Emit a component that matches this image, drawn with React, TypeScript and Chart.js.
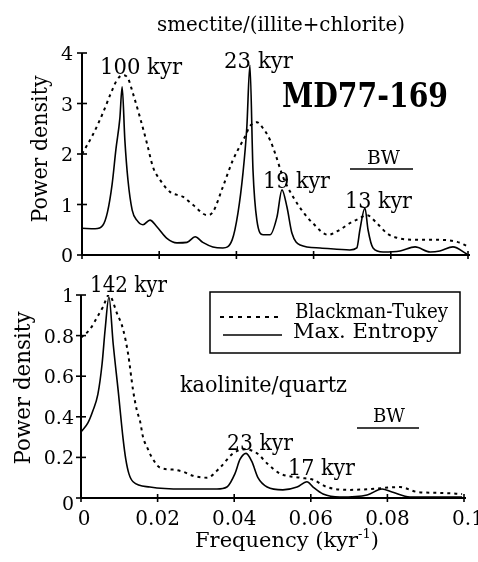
import React, { useEffect, useRef } from 'react';
import { Chart, registerables } from 'chart.js';

Chart.register(...registerables);

// ---------- data ----------
const X_TICKS = [0, 0.02, 0.04, 0.06, 0.08, 0.1];
const X_TICK_LABELS = ['0', '0.02', '0.04', '0.06', '0.08', '0.1'];
const TOP_Y_TICKS = [0, 1, 2, 3, 4];
const TOP_Y_LABELS = ['0', '1', '2', '3', '4'];
const BOTTOM_Y_TICKS = [0, 0.2, 0.4, 0.6, 0.8, 1];
const BOTTOM_Y_LABELS = ['0', '0.2', '0.4', '0.6', '0.8', '1'];

// smectite/(illite+chlorite) — Max. Entropy
const TOP_ME_FREQ = [0, 0.0034, 0.0054, 0.0066, 0.0078, 0.0088, 0.0098, 0.0104, 0.0111, 0.0119, 0.013, 0.0142, 0.0158, 0.0176, 0.0194, 0.022, 0.0246, 0.0272, 0.0293, 0.0313, 0.0339, 0.0365, 0.0389, 0.0404, 0.0417, 0.0427, 0.0435, 0.0443, 0.0453, 0.0469, 0.0487, 0.0505, 0.0518, 0.0531, 0.0544, 0.0565, 0.0617, 0.0694, 0.0712, 0.072, 0.0733, 0.0741, 0.0754, 0.078, 0.0824, 0.0863, 0.0902, 0.0927, 0.0961, 0.0997];
const TOP_ME = [0.53, 0.52, 0.59, 0.85, 1.4, 2.1, 2.7, 3.33, 2.28, 1.49, 0.89, 0.69, 0.6, 0.69, 0.56, 0.33, 0.24, 0.25, 0.36, 0.25, 0.16, 0.14, 0.3, 0.83, 1.62, 2.53, 3.76, 1.68, 0.69, 0.4, 0.4, 0.75, 1.29, 0.95, 0.43, 0.2, 0.14, 0.1, 0.14, 0.5, 0.93, 0.5, 0.14, 0.06, 0.08, 0.16, 0.06, 0.08, 0.16, 0.02];

// smectite/(illite+chlorite) — Blackman-Tukey
const TOP_BT_FREQ = [0, 0.0028, 0.0054, 0.0073, 0.0091, 0.0106, 0.0119, 0.0132, 0.015, 0.0168, 0.0184, 0.0202, 0.0228, 0.0262, 0.0288, 0.0324, 0.0339, 0.0365, 0.0391, 0.0415, 0.0422, 0.0435, 0.0453, 0.0469, 0.0487, 0.05, 0.0521, 0.0547, 0.0573, 0.0598, 0.0637, 0.0668, 0.0694, 0.072, 0.0738, 0.0764, 0.079, 0.0816, 0.0876, 0.0927, 0.0972, 0.0997];
const TOP_BT = [2.0, 2.38, 2.81, 3.17, 3.47, 3.56, 3.5, 3.2, 2.73, 2.22, 1.74, 1.49, 1.25, 1.15, 0.99, 0.79, 0.85, 1.35, 1.88, 2.24, 2.34, 2.55, 2.63, 2.51, 2.28, 2.02, 1.54, 1.15, 0.85, 0.63, 0.4, 0.5, 0.63, 0.73, 0.79, 0.63, 0.43, 0.34, 0.3, 0.3, 0.26, 0.18];

// kaolinite/quartz — Max. Entropy
const BOT_ME_FREQ = [0, 0.0018, 0.0031, 0.0044, 0.0055, 0.0063, 0.0073, 0.0084, 0.0097, 0.011, 0.0117, 0.0125, 0.0136, 0.018, 0.0266, 0.0355, 0.0381, 0.0402, 0.0415, 0.0431, 0.0446, 0.0462, 0.0486, 0.0527, 0.0564, 0.059, 0.0606, 0.0632, 0.0676, 0.0747, 0.0786, 0.0812, 0.0859, 0.0919, 0.0995];
const BOT_ME = [0.325, 0.37, 0.43, 0.51, 0.66, 0.83, 0.99, 0.76, 0.53, 0.29, 0.19, 0.12, 0.08, 0.054, 0.044, 0.044, 0.054, 0.12, 0.19, 0.22, 0.18, 0.1, 0.054, 0.04, 0.054, 0.08, 0.054, 0.02, 0.005, 0.015, 0.044, 0.03, 0.005, 0.005, 0.005];

// kaolinite/quartz — Blackman-Tukey
const BOT_BT_FREQ = [0, 0.0023, 0.0042, 0.0057, 0.0073, 0.0094, 0.011, 0.0123, 0.0136, 0.0146, 0.0154, 0.0162, 0.0175, 0.0185, 0.0206, 0.024, 0.0266, 0.0292, 0.0329, 0.0363, 0.0397, 0.0428, 0.046, 0.0486, 0.052, 0.0572, 0.0606, 0.0642, 0.0702, 0.0755, 0.0833, 0.0877, 0.0937, 0.0995];
const BOT_BT = [0.79, 0.83, 0.89, 0.94, 1.0, 0.91, 0.83, 0.71, 0.53, 0.43, 0.38, 0.3, 0.24, 0.2, 0.15, 0.14, 0.13, 0.11, 0.1, 0.15, 0.22, 0.24, 0.22, 0.17, 0.12, 0.1, 0.09, 0.054, 0.04, 0.044, 0.054, 0.03, 0.025, 0.02];

const SERIES_NAMES = ['Blackman-Tukey', 'Max. Entropy'];

// ---------- drawing helpers ----------
const SERIF = '"DejaVu Serif", "Liberation Serif", serif';

type TextOpts = { align?: 'left' | 'center' | 'right'; sx?: number; width?: number; bold?: boolean };

function drawText(ctx: CanvasRenderingContext2D, s: string, x: number, y: number, size: number, o: TextOpts = {}) {
  ctx.font = `${o.bold ? 'bold ' : ''}${size}px ${SERIF}`;
  const m = ctx.measureText(s).width;
  const sx = o.width ? o.width / m : o.sx ?? 1;
  const w = m * sx;
  const align = o.align ?? 'left';
  const left = align === 'center' ? x - w / 2 : align === 'right' ? x - w : x;
  ctx.save();
  ctx.translate(left, y);
  ctx.scale(sx, 1);
  ctx.textAlign = 'left';
  ctx.textBaseline = 'alphabetic';
  ctx.fillStyle = '#000';
  ctx.fillText(s, 0, 0);
  ctx.restore();
}

function drawRotated(ctx: CanvasRenderingContext2D, s: string, baseX: number, cy: number, size: number, width: number) {
  ctx.save();
  ctx.translate(baseX, cy);
  ctx.rotate(-Math.PI / 2);
  drawText(ctx, s, 0, 0, size, { align: 'center', width });
  ctx.restore();
}

function line(ctx: CanvasRenderingContext2D, x1: number, y1: number, x2: number, y2: number, w = 2, dash: number[] = []) {
  ctx.save();
  ctx.strokeStyle = '#000';
  ctx.lineWidth = w;
  ctx.setLineDash(dash);
  ctx.beginPath();
  ctx.moveTo(x1, y1);
  ctx.lineTo(x2, y2);
  ctx.stroke();
  ctx.restore();
}

function drawAxes(chart: any, yTicks: number[], yLabels: string[], labelGap: number, showXLabels: boolean) {
  const ctx: CanvasRenderingContext2D = chart.ctx;
  const { left, right, top, bottom } = chart.chartArea;
  const xs = chart.scales.x;
  const ys = chart.scales.y;
  line(ctx, left, top, left, bottom, 2);
  line(ctx, left, bottom, right + 2, bottom, 2);
  yTicks.forEach((v, i) => {
    const py = ys.getPixelForValue(v);
    line(ctx, left - 5, py, left + 5, py, 1.6);
    const dy = i === 0 && showXLabels ? 12 : 7;
    drawText(ctx, yLabels[i], left - labelGap, py + dy, 19, { align: 'right', sx: 1.0 });
  });
  X_TICKS.forEach((v, i) => {
    const px = xs.getPixelForValue(v);
    line(ctx, px, bottom - 4, px, bottom + 4, 1.6);
    if (showXLabels) {
      const dx = i === 0 ? 3 : i === X_TICKS.length - 1 ? 4 : 0;
      drawText(ctx, X_TICK_LABELS[i], px + dx, bottom + 27, 20, { align: 'center', sx: 1.0 });
    }
  });
}

function points(xs: number[], ys: number[]) {
  return xs.map((x, i) => ({ x, y: ys[i] }));
}

function makeConfig(btF: number[], bt: number[], meF: number[], me: number[], yMax: number, padding: any, plugin: any) {
  return {
    type: 'line',
    data: {
      datasets: [
        {
          label: SERIES_NAMES[0],
          data: points(btF, bt),
          borderColor: '#000',
          borderWidth: 2,
          borderDash: [3, 4],
          pointRadius: 0,
          fill: false,
          cubicInterpolationMode: 'monotone',
        },
        {
          label: SERIES_NAMES[1],
          data: points(meF, me),
          borderColor: '#000',
          borderWidth: 1.6,
          pointRadius: 0,
          fill: false,
          cubicInterpolationMode: 'monotone',
        },
      ],
    },
    options: {
      responsive: false,
      animation: false,
      events: [],
      layout: { padding },
      scales: {
        x: { type: 'linear', min: 0, max: 0.1, display: false },
        y: { type: 'linear', min: 0, max: yMax, display: false },
      },
      plugins: { legend: { display: false }, tooltip: { enabled: false } },
    },
    plugins: [plugin],
  } as any;
}

const topPlugin = {
  id: 'topDeco',
  afterDraw(chart: any) {
    const ctx: CanvasRenderingContext2D = chart.ctx;
    drawAxes(chart, TOP_Y_TICKS, TOP_Y_LABELS, 9, false);
    drawText(ctx, 'smectite/(illite+chlorite)', 281, 31, 21, { align: 'center', width: 248 });
    drawRotated(ctx, 'Power density', 47, 149, 22, 147);
    drawText(ctx, '100 kyr', 100, 74, 23, { width: 82 });
    drawText(ctx, '23 kyr', 224, 68, 23, { width: 69 });
    drawText(ctx, 'MD77-169', 282, 107, 33, { width: 166, bold: true });
    drawText(ctx, '19 kyr', 263, 188, 23, { width: 67 });
    drawText(ctx, 'BW', 367, 164, 18, { width: 33 });
    line(ctx, 350, 169, 413, 169, 1.6);
    drawText(ctx, '13 kyr', 345, 208, 23, { width: 67 });
  },
};

const bottomPlugin = {
  id: 'bottomDeco',
  afterDraw(chart: any) {
    const ctx: CanvasRenderingContext2D = chart.ctx;
    drawAxes(chart, BOTTOM_Y_TICKS, BOTTOM_Y_LABELS, 7, true);
    drawRotated(ctx, 'Power density', 30, 388, 22, 153);
    drawText(ctx, '142 kyr', 90, 292, 23, { width: 77 });
    // legend
    ctx.save();
    ctx.strokeStyle = '#000';
    ctx.lineWidth = 1.5;
    ctx.strokeRect(210, 292, 250, 61);
    ctx.restore();
    line(ctx, 220, 317, 278, 317, 2, [4, 5]);
    line(ctx, 223, 335, 282, 335, 1.6);
    drawText(ctx, SERIES_NAMES[0], 295, 318, 20, { width: 153 });
    drawText(ctx, SERIES_NAMES[1], 293, 338, 20, { width: 145 });
    drawText(ctx, 'kaolinite/quartz', 180, 392, 22, { width: 167 });
    drawText(ctx, 'BW', 373, 422, 18, { width: 32 });
    line(ctx, 357, 428, 419, 428, 1.6);
    drawText(ctx, '23 kyr', 227, 450, 23, { width: 66 });
    drawText(ctx, '17 kyr', 288, 475, 23, { width: 67 });
    // x title with superscript
    const sx = 1.0;
    ctx.font = `21px ${SERIF}`;
    const w1 = ctx.measureText('Frequency (kyr').width * sx;
    ctx.font = `13px ${SERIF}`;
    const w2 = ctx.measureText('-1').width * sx;
    ctx.font = `21px ${SERIF}`;
    const w3 = ctx.measureText(')').width * sx;
    const total = w1 + w2 + w3;
    const x0 = 287 - total / 2;
    drawText(ctx, 'Frequency (kyr', x0, 547, 21, { sx });
    drawText(ctx, '-1', x0 + w1, 538, 13, { sx });
    drawText(ctx, ')', x0 + w1 + w2, 547, 21, { sx });
  },
};

export default function App() {
  const topRef = useRef<HTMLCanvasElement>(null);
  const botRef = useRef<HTMLCanvasElement>(null);

  useEffect(() => {
    const c1 = new Chart(
      topRef.current!,
      makeConfig(TOP_BT_FREQ, TOP_BT, TOP_ME_FREQ, TOP_ME, 4, { left: 82, top: 53, right: 10, bottom: 307 }, topPlugin)
    );
    const c2 = new Chart(
      botRef.current!,
      makeConfig(BOT_BT_FREQ, BOT_BT, BOT_ME_FREQ, BOT_ME, 1, { left: 81, top: 295, right: 14, bottom: 64 }, bottomPlugin)
    );
    return () => {
      c1.destroy();
      c2.destroy();
    };
  }, []);

  const style: React.CSSProperties = { position: 'absolute', left: 0, top: 0, width: 478, height: 562 };
  return (
    <div style={{ position: 'absolute', left: 0, top: 0, width: 478, height: 562, background: '#fff' }}>
      <canvas ref={topRef} width={478} height={562} style={style} />
      <canvas ref={botRef} width={478} height={562} style={style} />
    </div>
  );
}
